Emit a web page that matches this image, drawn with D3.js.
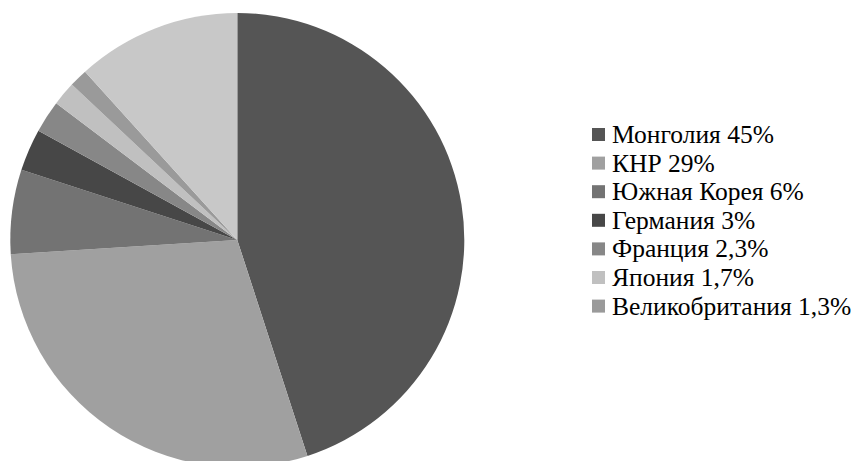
<!DOCTYPE html>
<html lang="ru">
<head>
<meta charset="utf-8">
<script src="https://cdn.jsdelivr.net/npm/d3@7/dist/d3.min.js"></script>
<style>
  html, body { margin: 0; padding: 0; background: #ffffff; }
  svg { display: block; }
</style>
</head>
<body>
<svg id="chart" width="865" height="461"></svg>
<script>
// Data
const categories = ["Монголия", "КНР", "Южная Корея", "Германия", "Франция", "Япония", "Великобритания", "Прочие"];
const shares     = [45, 29, 6, 3, 2.3, 1.7, 1.3, 11.7];
const shareLabels = ["45%", "29%", "6%", "3%", "2,3%", "1,7%", "1,3%", ""];
const inLegend   = [true, true, true, true, true, true, true, false];
const colors     = ["#555555", "#a0a0a0", "#737373", "#474747", "#878787", "#c0c0c0", "#9a9a9a", "#c8c8c8"];

const svg = d3.select("#chart");
const cx = 237.3, cy = 240, r = 227;

const data = categories.map((c, i) => ({ name: c, value: shares[i], label: shareLabels[i], legend: inLegend[i], color: colors[i] }));

const pie = d3.pie().sort(null).value(d => d.value).startAngle(0).endAngle(2 * Math.PI);
const arc = d3.arc().innerRadius(0).outerRadius(r);

svg.append("g")
  .attr("transform", `translate(${cx},${cy})`)
  .selectAll("path")
  .data(pie(data))
  .join("path")
  .attr("d", arc)
  .attr("fill", d => d.data.color);

// Legend (flat, directly in the svg)
const legendData = data.filter(d => d.legend);
const y = d3.scalePoint().domain(legendData.map(d => d.name)).range([143, 314.6]);

svg.selectAll("rect.key").data(legendData).join("rect").attr("class", "key")
  .attr("x", 592).attr("y", d => y(d.name) - 15)
  .attr("width", 13).attr("height", 13)
  .attr("fill", d => d.color);

svg.selectAll("text.lbl").data(legendData).join("text").attr("class", "lbl")
  .attr("x", 612).attr("y", d => y(d.name))
  .style("font-family", '"Liberation Serif"')
  .style("font-size", "25.5px")
  .text(d => `${d.name} ${d.label}`);
</script>
</body>
</html>
